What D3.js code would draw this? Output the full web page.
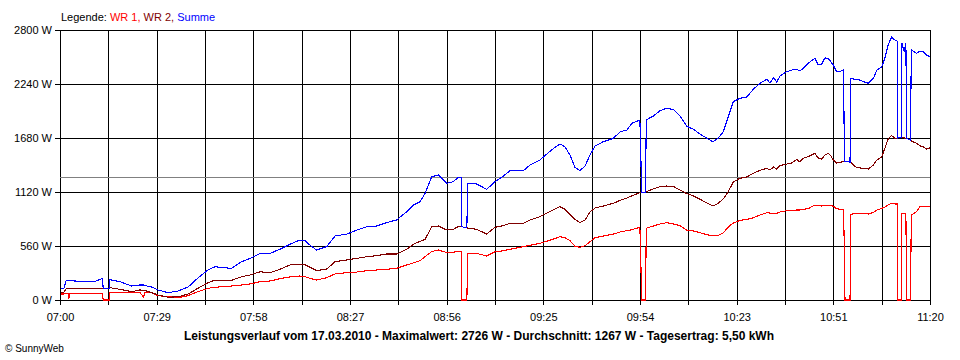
<!DOCTYPE html>
<html><head><meta charset="utf-8">
<script src="https://cdn.jsdelivr.net/npm/d3@7"></script>
<style>
html,body{margin:0;padding:0;background:#fff;}
svg{display:block;font-family:"Liberation Sans",Arial,sans-serif;}
</style></head>
<body><svg id="c" width="960" height="360"></svg>
<script>
// minutes after 07:00
const minutes = [0.3,1.2,1.8,2.5,2.6,2.9,4.5,7.5,10.5,12.7,
12.9,14.8,14.9,17.9,21.4,23.9,25.0,25.3,27.4,29.3,
32.3,35.3,38.3,41.2,44.2,46.3,48.7,51.3,54.3,56.8,
59.8,62.8,65.7,68.7,71.7,73.2,74.7,76.7,79.7,82.2,
85.7,88.7,91.7,94.6,97.6,100.6,103.6,105.6,107.6,109.1,
111.1,113.1,115.6,117.5,119.0,119.9,120.1,121.6,121.8,124.5,
127.5,130.0,132.0,134.5,138.5,140.5,143.4,146.9,149.4,150.9,
152.4,153.9,155.4,156.9,158.4,159.9,162.4,165.4,167.4,169.4,
170.9,173.3,173.6,173.8,175.0,175.2,177.3,179.3,181.3,183.3,
185.3,187.3,189.3,191.3,193.3,195.1,196.7,198.2,199.7,201.2,
203.2,205.2,207.2,209.2,211.2,212.2,213.2,214.2,215.2,217.2,
218.7,220.2,221.1,222.1,223.6,225.6,226.6,227.6,228.6,229.6,
230.4,231.1,232.1,233.1,234.2,234.4,234.6,236.1,236.3,237.6,
239.1,240.1,241.6,243.1,244.1,245.6,246.5,247.5,248.5,249.5,
250.2,250.4,251.4,251.6,252.3,252.8,253.0,254.2,254.4,256.0,
257.0,258.0,259.0,260.0];
const summe = [121,124,197,202,202,202,197,192,192,225,
121,119,211,190,145,156,156,150,135,104,
76,93,135,228,311,345,335,329,397,432,
484,484,526,578,622,615,570,518,553,664,
684,726,760,767,802,830,916,985,1019,1106,
1279,1296,1210,1227,1272,1272,760,747,1210,1203,
1148,1227,1272,1341,1341,1400,1452,1556,1618,1590,
1504,1376,1341,1390,1504,1597,1642,1677,1745,1763,
1832,1867,1486,1115,1120,1867,1908,1963,1988,1976,
1908,1804,1770,1721,1677,1642,1677,1745,1901,2056,
2092,2105,2185,2247,2289,2250,2307,2261,2323,2368,
2385,2392,2375,2403,2455,2507,2437,2447,2510,2507,
2468,2437,2368,2368,2388,1434,1434,1431,2299,2287,
2281,2264,2247,2299,2385,2419,2507,2644,2726,2696,
2686,1680,1685,2662,2575,2662,1675,1659,2593,2558,
2582,2572,2541,2523];
const wr2 = [76,83,114,121,121,121,121,119,119,121,
121,119,128,111,86,104,99,99,76,52,
28,34,62,121,179,207,200,204,242,259,
293,283,318,363,370,366,339,304,321,397,
415,432,449,459,477,477,526,578,609,629,
760,767,726,733,760,760,760,747,747,733,
684,754,767,795,795,830,864,926,968,941,
885,837,802,830,913,954,975,1003,1034,1058,
1079,1113,1113,1115,1120,1123,1151,1175,1182,1177,
1141,1104,1079,1044,1006,975,1003,1047,1123,1224,
1262,1276,1314,1345,1366,1348,1379,1358,1395,1410,
1421,1459,1431,1469,1486,1521,1473,1459,1504,1521,
1493,1452,1421,1428,1434,1434,1434,1431,1428,1382,
1369,1366,1358,1400,1452,1486,1573,1670,1706,1677,
1680,1680,1685,1685,1680,1677,1675,1659,1649,1625,
1600,1587,1566,1579];
const wr1 = [62,62,67,69,10,69,69,69,69,69,
0,0,76,76,76,76,31,76,76,45,
34,24,45,86,121,132,138,145,156,166,
190,197,221,239,249,242,225,207,231,270,
283,290,304,311,318,329,363,384,408,449,
503,519,491,495,505,501,0,0,484,484,
456,501,508,526,553,567,588,625,656,646,
615,557,547,563,605,646,664,684,705,719,
729,754,381,0,0,744,767,788,802,788,
771,726,716,698,677,664,669,695,757,798,
826,835,853,881,905,902,899,899,913,926,
930,933,933,941,947,985,978,975,982,982,
978,972,947,941,939,467,0,0,889,895,
899,899,892,909,933,951,964,985,1003,996,
996,0,0,899,892,897,0,0,881,916,
968,968,968,968];
const timeLabels = ["07:00","07:29","07:58","08:27","08:56","09:25","09:54","10:23","10:51","11:20"];
const yTicks = [0,560,1120,1680,2240,2800];
const average = 1267;
const titleText = "Leistungsverlauf vom 17.03.2010 - Maximalwert: 2726 W - Durchschnitt: 1267 W - Tagesertrag: 5,50 kWh";

const svg = d3.select("#c");
const L = 60, R = 930, T = 30, B = 300;
const x = d3.scaleLinear().domain([0, 260]).range([L, R]);
const y = d3.scaleLinear().domain([0, 2800]).range([B, T]);

// vertical grid + bottom ticks (19 lines, labels every second)
const gridMinutes = d3.range(19).map(i => i * 260 / 18);
const xAxis = d3.axisBottom(x).tickValues(gridMinutes).tickSize(-(B - T + 5)).tickPadding(8)
  .tickFormat((d, i) => i % 2 === 0 ? timeLabels[i / 2] : "");
const gx = svg.append("g").attr("transform", `translate(0,${B + 5})`).call(xAxis);
gx.select(".domain").remove();
gx.selectAll("line").attr("stroke", "#000").attr("shape-rendering", "crispEdges");
gx.selectAll("text").attr("fill", "#000").style("font-size", "11px").attr("dy", "0.71em");

// horizontal grid + left labels
const yAxis = d3.axisLeft(y).tickValues(yTicks).tickSize(-(R - L + 5)).tickPadding(3)
  .tickFormat(d => d + " W");
const gy = svg.append("g").attr("transform", `translate(${L - 5},0)`).call(yAxis);
gy.select(".domain").remove();
gy.selectAll("line").attr("stroke", "#000").attr("shape-rendering", "crispEdges");
gy.selectAll("text").attr("fill", "#000").style("font-size", "11px");

// average line
svg.append("line").attr("x1", L).attr("x2", R).attr("y1", y(average)).attr("y2", y(average))
  .attr("stroke", "#808080").attr("shape-rendering", "crispEdges");

const line = d3.line().x(d => x(d[0])).y(d => y(d[1]));
const series = [
  {vals: wr1, color: "#ff0000"},
  {vals: wr2, color: "#800000"},
  {vals: summe, color: "#0000ff"}
];
series.forEach(s => {
  svg.append("path").datum(minutes.map((m, i) => [m, s.vals[i]]))
    .attr("d", line).attr("fill", "none").attr("stroke", s.color)
    .attr("stroke-width", 1.1).attr("shape-rendering", "crispEdges");
});

// legend
const leg = svg.append("text").attr("x", 61).attr("y", 21).style("font-size", "11px");
[["Legende: ", "#000"], ["WR 1, ", "#ff0000"], ["WR 2, ", "#800000"], ["Summe", "#0000ff"]]
  .forEach(p => leg.append("tspan").attr("fill", p[1]).text(p[0]));

// title
svg.append("text").attr("x", 479).attr("y", 340).attr("text-anchor", "middle")
  .style("font-size", "12px").style("font-weight", "bold").attr("fill", "#000").text(titleText);

// copyright
svg.append("text").attr("x", 5).attr("y", 352).style("font-size", "10px").attr("fill", "#000").text("© SunnyWeb");
</script></body></html>
